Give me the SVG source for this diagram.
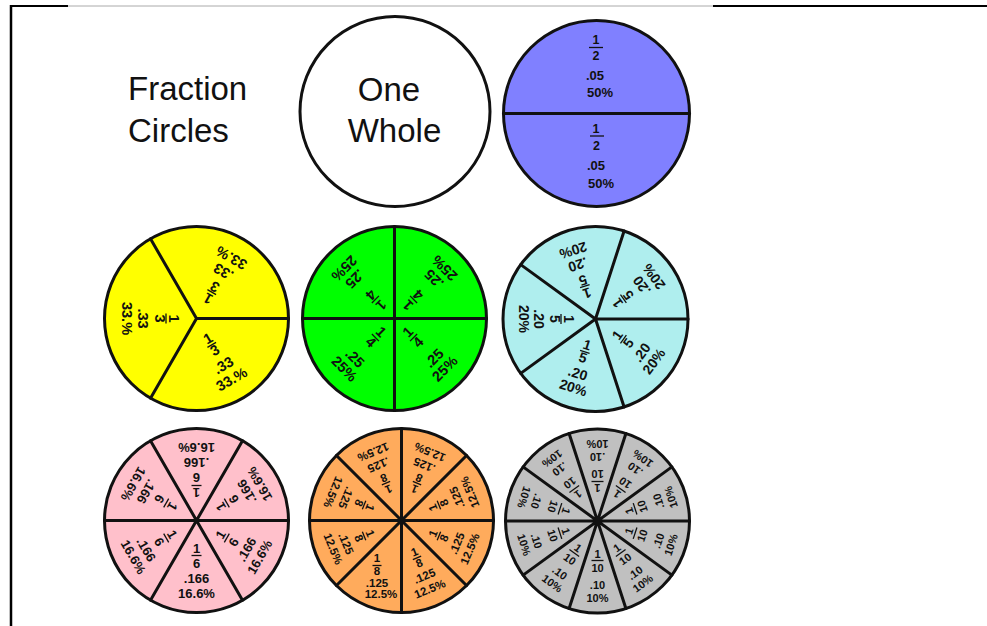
<svg xmlns="http://www.w3.org/2000/svg" xmlns:xlink="http://www.w3.org/1999/xlink" width="987" height="626" viewBox="0 0 987 626">
<style>
.ttl{font-family:"Liberation Sans",Arial,sans-serif;font-size:33px;fill:#111}
.lbl{font-family:"Liberation Sans",Arial,sans-serif;font-weight:bold;text-anchor:middle;fill:#111}
.ring{stroke:#111;stroke-width:3}
.div{stroke:#111;stroke-width:3;fill:none;stroke-linecap:round}
.bar{stroke:#111;stroke-width:1.3}
.fy{font-size:14.5px}.fg{font-size:14.5px}.fc{font-size:14px}.fp{font-size:13px}.fo{font-size:11.5px}.fx{font-size:11px}.fh{font-size:13px}.fh2{font-size:12.5px}
</style>
<defs>
<g id="secY" class="lbl fy"><text y="28">1</text><line class="bar" x1="-5" y1="30.5" x2="5" y2="30.5"/><text y="41.5">3</text><text y="59">.33</text><text y="75">33.%</text></g>
<g id="secG" class="lbl fg"><text y="24">1</text><line class="bar" x1="-5" y1="27" x2="5" y2="27"/><text y="38.5">4</text><text y="61">.25</text><text y="76">25%</text></g>
<g id="secC" class="lbl fc"><text y="32">1</text><line class="bar" x1="-5" y1="34.5" x2="5" y2="34.5"/><text y="45.5">5</text><text y="62">.20</text><text y="77">20%</text></g>
<g id="secP" class="lbl fp"><text y="32.5">1</text><line class="bar" x1="-5" y1="35" x2="5" y2="35"/><text y="47.5">6</text><text y="62.5">.166</text><text y="77.5">16.6%</text></g>
<g id="secO" class="lbl fo"><text y="38">1</text><line class="bar" x1="-4.5" y1="40.5" x2="4.5" y2="40.5"/><text y="50">8</text><text y="64">.125</text><text y="78">12.5%</text></g>
<g id="secX" class="lbl fx"><text y="37">1</text><line class="bar" x1="-6" y1="39.5" x2="6" y2="39.5"/><text y="51">10</text><text y="68">.10</text><text y="81">10%</text></g>
</defs>
<rect width="987" height="626" fill="#fff"/>
<g id="frame">
<line x1="11" y1="5" x2="11" y2="626" stroke="#000" stroke-width="2.5"/>
<line x1="10" y1="6" x2="68" y2="6" stroke="#000" stroke-width="2"/>
<line x1="68" y1="6" x2="713" y2="6" stroke="#aaa" stroke-width="1"/>
<line x1="713" y1="6" x2="987" y2="6" stroke="#000" stroke-width="2"/>
</g>
<g id="title">
<text class="ttl" x="128" y="100">Fraction</text>
<text class="ttl" x="128" y="142">Circles</text>
</g>
<g id="whole">
<circle class="ring" cx="395" cy="111.5" r="95" fill="#fff"/>
<text class="ttl" x="389" y="101" text-anchor="middle">One</text>
<text class="ttl" x="394.5" y="142" text-anchor="middle">Whole</text>
</g>
<g id="halves">
<circle class="ring" cx="596.5" cy="113.5" r="93" fill="#8080ff"/>
<g class="lbl">
<text class="fh2" x="596" y="44">1</text><line class="bar" x1="589" y1="47.5" x2="603" y2="47.5"/><text class="fh2" x="596" y="59.5">2</text>
<text class="fh" x="595" y="79.5">.05</text><text class="fh" x="600" y="97">50%</text>
<text class="fh2" x="596" y="132.5">1</text><line class="bar" x1="590" y1="136" x2="604" y2="136"/><text class="fh2" x="596.5" y="150">2</text>
<text class="fh" x="596" y="169.5">.05</text><text class="fh" x="601" y="187.5">50%</text>
</g>
</g>
<g id="thirds">
<circle class="ring" cx="196.5" cy="318.5" r="92" fill="#ffff00"/>
<use href="#secY" transform="translate(196.5,318.5) rotate(-30)"/>
<use href="#secY" transform="translate(196.5,318.5) rotate(90)"/>
<use href="#secY" transform="translate(196.5,318.5) rotate(-150)"/>
</g>
<g id="quarters">
<circle class="ring" cx="394.5" cy="318.5" r="92" fill="#00ff00"/>
<use href="#secG" transform="translate(394.5,318.5) rotate(-45)"/>
<use href="#secG" transform="translate(394.5,318.5) rotate(45)"/>
<use href="#secG" transform="translate(394.5,318.5) rotate(135)"/>
<use href="#secG" transform="translate(394.5,318.5) rotate(-135)"/>
</g>
<g id="fifths">
<circle class="ring" cx="595.5" cy="319" r="92.5" fill="#afeeee"/>
<use href="#secC" transform="translate(595.5,319) rotate(-54)"/>
<use href="#secC" transform="translate(595.5,319) rotate(18)"/>
<use href="#secC" transform="translate(595.5,319) rotate(90)"/>
<use href="#secC" transform="translate(595.5,319) rotate(162)"/>
<use href="#secC" transform="translate(595.5,319) rotate(-126)"/>
</g>
<g id="sixths">
<circle class="ring" cx="196.5" cy="520.5" r="92" fill="#ffc0cb"/>
<use href="#secP" transform="translate(196.5,520.5) rotate(-60)"/>
<use href="#secP" transform="translate(196.5,520.5) rotate(0)"/>
<use href="#secP" transform="translate(196.5,520.5) rotate(60)"/>
<use href="#secP" transform="translate(196.5,520.5) rotate(120)"/>
<use href="#secP" transform="translate(196.5,520.5) rotate(180)"/>
<use href="#secP" transform="translate(196.5,520.5) rotate(-120)"/>
</g>
<g id="eighths">
<circle class="ring" cx="401.5" cy="520.5" r="92" fill="#ffab5c"/>
<use href="#secO" transform="translate(401.5,520.5) rotate(-67.5)"/>
<use href="#secO" transform="translate(401.5,520.5) rotate(-22.5)"/>
<g class="lbl fo"><text x="377" y="561.7">1</text><line class="bar" x1="372.5" y1="565.5" x2="381.5" y2="565.5"/><text x="377" y="575">8</text><text x="377" y="586.7">.125</text><text x="381" y="598.3">12.5%</text></g>
<use href="#secO" transform="translate(401.5,520.5) rotate(67.5)"/>
<use href="#secO" transform="translate(401.5,520.5) rotate(112.5)"/>
<use href="#secO" transform="translate(401.5,520.5) rotate(157.5)"/>
<use href="#secO" transform="translate(401.5,520.5) rotate(202.5)"/>
<use href="#secO" transform="translate(401.5,520.5) rotate(247.5)"/>
</g>
<g id="tenths">
<circle class="ring" cx="597.5" cy="521" r="92" fill="#c0c0c0"/>
<use href="#secX" transform="translate(597.5,521) rotate(-72)"/>
<use href="#secX" transform="translate(597.5,521) rotate(-36)"/>
<use href="#secX" transform="translate(597.5,521) rotate(0)"/>
<use href="#secX" transform="translate(597.5,521) rotate(36)"/>
<use href="#secX" transform="translate(597.5,521) rotate(72)"/>
<use href="#secX" transform="translate(597.5,521) rotate(108)"/>
<use href="#secX" transform="translate(597.5,521) rotate(144)"/>
<use href="#secX" transform="translate(597.5,521) rotate(180)"/>
<use href="#secX" transform="translate(597.5,521) rotate(216)"/>
<use href="#secX" transform="translate(597.5,521) rotate(252)"/>
</g>
<g id="dividers">
<line class="div" x1="503.5" y1="113.5" x2="689.5" y2="113.5"/>
<path class="div" d="M196.5,318.5 L288.5,318.5 M196.5,318.5 L150.5,398.2 M196.5,318.5 L150.5,238.8"/>
<path class="div" d="M394.5,226.5 L394.5,410.5 M302.5,318.5 L486.5,318.5"/>
<path class="div" d="M595.5,319 L688,319 M595.5,319 L624.1,407 M595.5,319 L520.7,373.4 M595.5,319 L520.7,264.6 M595.5,319 L624.1,231"/>
<path class="div" d="M104.5,520.5 L288.5,520.5 M242.5,600.2 L150.5,440.8 M150.5,600.2 L242.5,440.8"/>
<path class="div" d="M309.5,520.5 L493.5,520.5 M401.5,428.5 L401.5,612.5 M466.55,585.55 L336.45,455.45 M336.45,585.55 L466.55,455.45"/>
<path class="div" d="M505.5,521 L689.5,521 M671.9,575.1 L523.1,466.9 M625.9,608.5 L569.1,433.5 M569.1,608.5 L625.9,433.5 M523.1,575.1 L671.9,466.9"/>
</g>
</svg>
